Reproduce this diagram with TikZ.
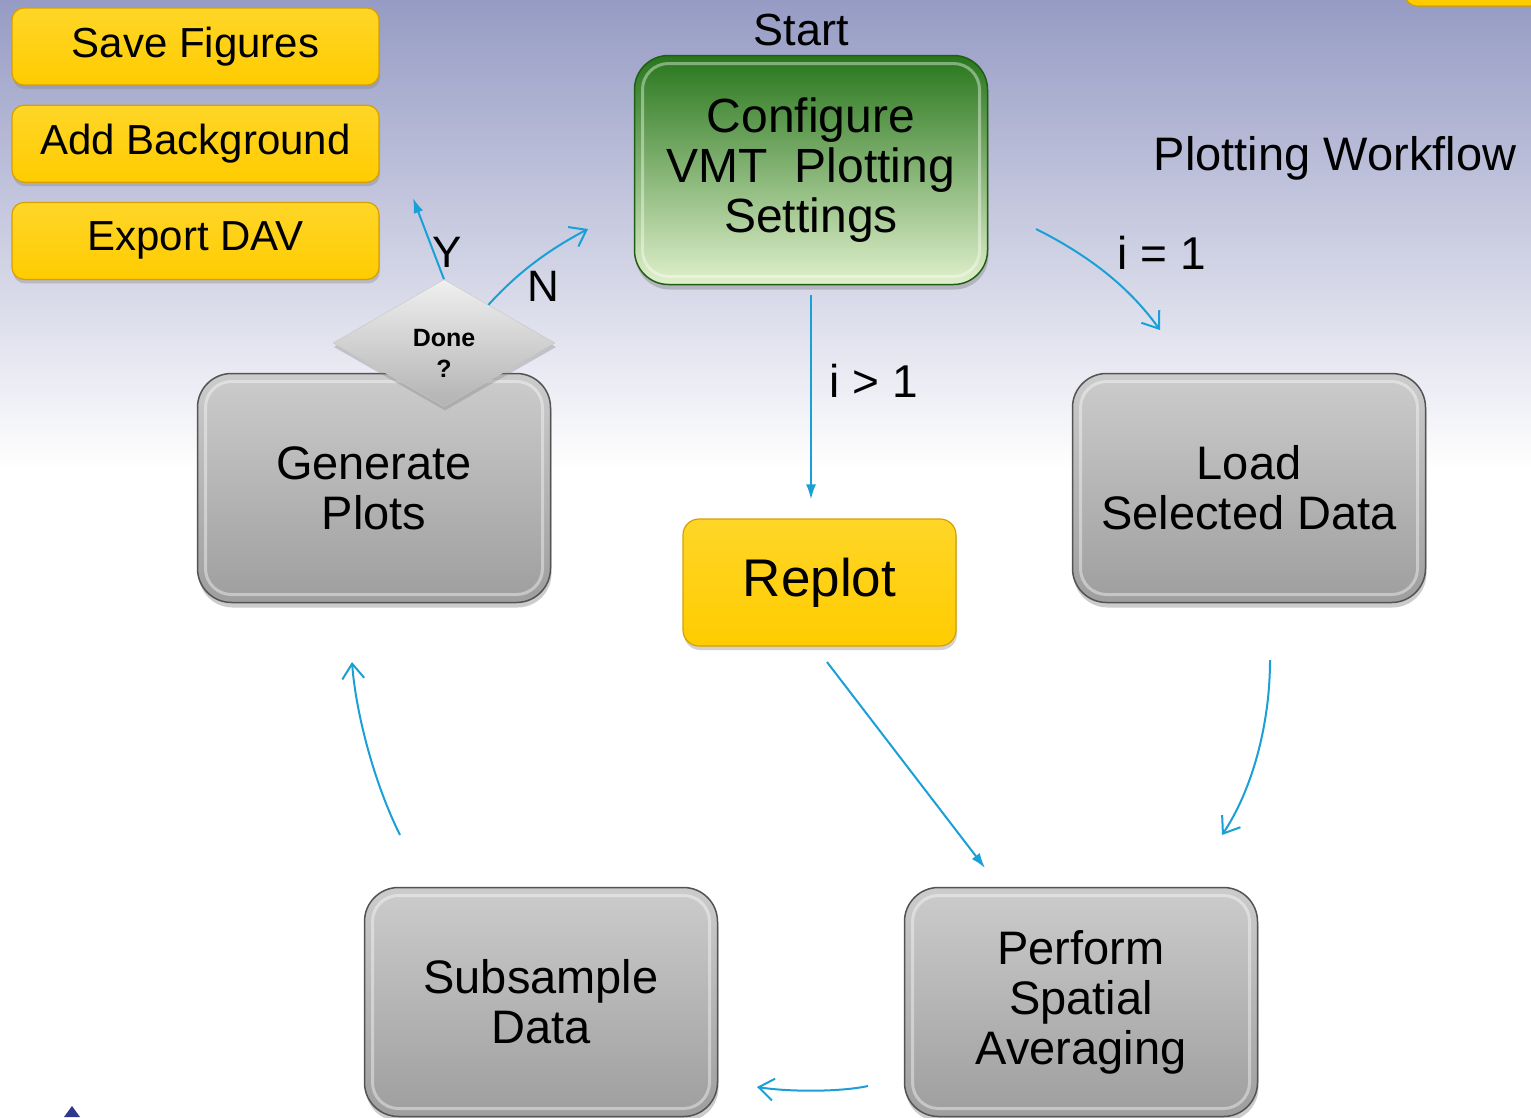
\documentclass[tikz,border=0pt]{standalone}
\usepackage{fontspec}
\setmainfont{Liberation Sans}
\usetikzlibrary{arrows.meta, calc, positioning, shapes.geometric, shadows}

\definecolor{bgtop}{RGB}{150,155,196}
\definecolor{btnyellow}{RGB}{255,204,0}
\definecolor{btnlight}{RGB}{255,214,40}
\definecolor{btnedge}{RGB}{214,160,0}
\definecolor{flowblue}{RGB}{26,160,214}
\definecolor{cfgtop}{RGB}{40,118,28}
\definecolor{cfgmid}{RGB}{140,192,100}
\definecolor{cfgbot}{RGB}{224,240,204}
\definecolor{corner}{RGB}{46,56,140}

\begin{document}
\begin{tikzpicture}[x=1pt, y=-1pt,
    bevel/.style = {path picture={\draw[white, opacity=0.4, line width=3pt, rounded corners=#1]
      ([shift={(8pt,8pt)}]path picture bounding box.south west) rectangle
      ([shift={(-8pt,-8pt)}]path picture bounding box.north east);}},
    box/.style = {draw=gray!65!black, line width=1.5pt, rounded corners=34pt,
      top color=gray!40, bottom color=gray!76, minimum width=353pt, minimum height=229pt,
      align=center, font=\fontsize{47}{50}\selectfont, bevel=26pt,
      drop shadow={shadow xshift=1pt, shadow yshift=-5pt, opacity=0.4}},
    cfgbox/.style = {box, draw=cfgtop!80!black, top color=cfgtop, middle color=cfgmid, bottom color=cfgbot,
      font=\fontsize{48}{50}\selectfont},
    button/.style = {draw=btnedge, line width=1.2pt, rounded corners=12pt,
      top color=btnlight, bottom color=btnyellow, minimum width=367pt, minimum height=77pt,
      font=\fontsize{42}{42}\selectfont,
      drop shadow={shadow xshift=1pt, shadow yshift=-4pt, opacity=0.35}},
    decision/.style = {diamond, aspect=1.75, minimum width=222pt, minimum height=127pt, inner sep=0pt,
      draw=gray!45, top color=gray!12, bottom color=gray!60,
      drop shadow={shadow xshift=1pt, shadow yshift=-4pt, opacity=0.35}},
    lbl/.style = {font=\fontsize{46}{46}\selectfont},
    flow/.style = {draw=flowblue, line width=2pt},
    filltip/.style = {-{Latex[length=15pt, width=10pt]}},
    opentip/.style = {-{Straight Barb[length=15pt, width=22pt]}}
  ]
  \useasboundingbox (0,0) rectangle (1531,1117);
  \clip (0,0) rectangle (1531,1117);
  \fill[white] (0,0) rectangle (1531,1117);
  \shade[top color=bgtop, bottom color=white] (0,0) rectangle (1531,470);
  \filldraw[draw=btnedge, fill=btnyellow, line width=1.2pt, rounded corners=12pt] (1405,-80) rectangle (1620,6);
  \fill[corner] (72,1106) -- (80,1117) -- (64,1117) -- cycle;

  \node[button] (save) at (195.5,46.5) {Save Figures};
  \node[button, below=19pt of save] (addbg) {Add Background};
  \node[button, below=19pt of addbg] (export) {Export DAV};

  \node[lbl, font=\fontsize{45}{45}\selectfont] (start) at (801,30) {Start};
  \node[cfgbox] (cfg) at (811,170) {Configure\\VMT\ \ Plotting\\Settings};
  \node[lbl, font=\fontsize{47}{47}\selectfont] (title) at (1335,158) {Plotting Workflow};

  \node[box] (gen) at (374,488) {Generate\\Plots};
  \node[box] (load) at (1249,488) {Load\\Selected Data};
  \node[button, minimum width=273pt, minimum height=127pt, rounded corners=16pt,
    font=\fontsize{53}{53}\selectfont] (replot) at (819.5,582.5) {Replot};
  \node[box] (subs) at (541,1002) {Subsample\\Data};
  \node[box] (perf) at (1081,1002) {Perform\\Spatial\\Averaging};
  \node[decision, label={[align=center, yshift=-10pt, font=\fontsize{25}{31}\selectfont\bfseries]center:{Done\\?}}] (done) at (444,343) {};

  \node[lbl] (gt) at (874,381) {i > 1};
  \node[lbl] (eq) at (1162,253) {i = 1};
  \node[lbl, font=\fontsize{44}{44}\selectfont] (yes) at (447,252) {Y};
  \node[lbl, font=\fontsize{44}{44}\selectfont] (no) at (543,286) {N};

  \coordinate (eqa) at (1036,229);
  \coordinate (eqb) at (1160,330);
  \coordinate (lda) at (1270,660);
  \coordinate (ldb) at (1222,835);
  \coordinate (rpa) at (827,662);
  \coordinate (rpb) at (985,868);
  \coordinate (pfa) at (868,1086);
  \coordinate (pfb) at (757,1087);
  \coordinate (sba) at (400,835);
  \coordinate (sbb) at (352,662);
  \coordinate (yend) at (413,198);
  \coordinate (nend) at (588,229);

  \draw[flow, filltip] ([yshift=-10pt]cfg.south) -- ([yshift=19pt]cfg.south |- replot.north);
  \draw[flow, opentip] (eqa) .. controls (1090,256) and (1130,288) .. (eqb);
  \draw[flow, opentip] (lda) .. controls (1270,725) and (1252,790) .. (ldb);
  \draw[flow, filltip] (rpa) -- (rpb);
  \draw[flow, opentip] (pfa) .. controls (840,1092) and (790,1092) .. (pfb);
  \draw[flow, opentip] (sba) .. controls (375,785) and (356,715) .. (sbb);
  \draw[flow, filltip] (done.north) -- (yend);
  \draw[flow, opentip] ($(done.north)!0.4!(done.east)$) .. controls (520,270) and (552,248) .. (nend);
\end{tikzpicture}
\end{document}
